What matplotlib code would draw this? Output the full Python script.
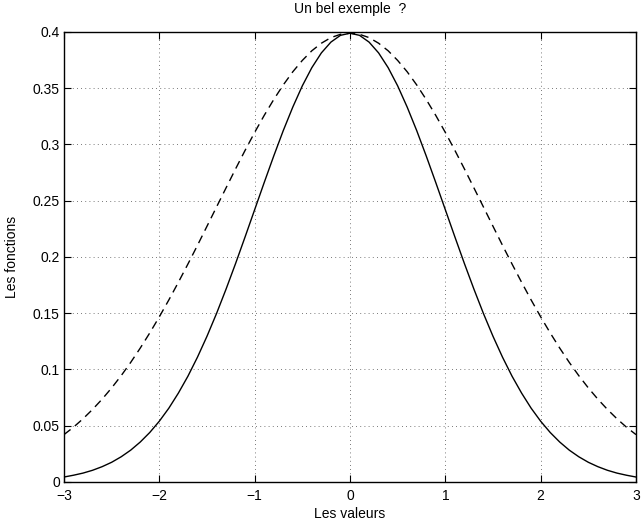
import numpy as np
import matplotlib.pyplot as plt

plt.rcParams['font.family'] = ['Liberation Sans', 'DejaVu Sans']

x = [round(-3.0 + 0.1 * i, 1) for i in range(61)]

# solid curve (narrow bell), read from -3 to 3
y_solid = [0.0044, 0.0060, 0.0079, 0.0104, 0.0136, 0.0175, 0.0224, 0.0283, 0.0355, 0.0440,
           0.0540, 0.0656, 0.0790, 0.0940, 0.1109, 0.1295, 0.1497, 0.1714, 0.1942, 0.2179,
           0.2420, 0.2661, 0.2897, 0.3123, 0.3332, 0.3521, 0.3683, 0.3814, 0.3910, 0.3970,
           0.3989,
           0.3970, 0.3910, 0.3814, 0.3683, 0.3521, 0.3332, 0.3123, 0.2897, 0.2661, 0.2420,
           0.2179, 0.1942, 0.1714, 0.1497, 0.1295, 0.1109, 0.0940, 0.0790, 0.0656, 0.0540,
           0.0440, 0.0355, 0.0283, 0.0224, 0.0175, 0.0136, 0.0104, 0.0079, 0.0060, 0.0044]

# dashed curve (wide bell), read from -3 to 3
y_dashed = [0.0421, 0.0487, 0.0562, 0.0645, 0.0736, 0.0836, 0.0945, 0.1063, 0.1190, 0.1325,
            0.1468, 0.1618, 0.1775, 0.1937, 0.2103, 0.2273, 0.2444, 0.2614, 0.2783, 0.2948,
            0.3107, 0.3258, 0.3399, 0.3529, 0.3646, 0.3747, 0.3833, 0.3900, 0.3950, 0.3979,
            0.3989,
            0.3979, 0.3950, 0.3900, 0.3833, 0.3747, 0.3646, 0.3529, 0.3399, 0.3258, 0.3107,
            0.2948, 0.2783, 0.2614, 0.2444, 0.2273, 0.2103, 0.1937, 0.1775, 0.1618, 0.1468,
            0.1325, 0.1190, 0.1063, 0.0945, 0.0836, 0.0736, 0.0645, 0.0562, 0.0487, 0.0421]

xticks = [-3, -2, -1, 0, 1, 2, 3]
yticks = [0, 0.05, 0.1, 0.15, 0.2, 0.25, 0.3, 0.35, 0.4]
yticklabels = ['0', '0.05', '0.1', '0.15', '0.2', '0.25', '0.3', '0.35', '0.4']

fig = plt.figure(figsize=(6.41, 5.24), dpi=100)
ax = fig.add_axes([0.0998, 0.0802, 0.8924, 0.8588])

ax.plot(x, y_solid, color='black', linewidth=1.0)
ax.plot(x, y_dashed, color='black', linewidth=1.0, linestyle=(0, (6, 4)))

ax.set_xlim(-3, 3)
ax.set_ylim(0, 0.4)
ax.set_xticks(xticks)
ax.set_yticks(yticks)
ax.set_yticklabels(yticklabels)

ax.grid(True, linestyle=(0, (1, 4)), color='black', linewidth=0.6, alpha=0.7)
ax.tick_params(direction='in', top=True, right=True, length=5, width=0.8,
               labelsize=10, pad=3)
ax.tick_params(axis='x', pad=5)
for s in ax.spines.values():
    s.set_linewidth(1.0)

ax.set_title('Un bel exemple  ?', fontsize=10, pad=14)
ax.set_xlabel('Les valeurs', fontsize=10, labelpad=3)
ax.set_ylabel('Les fonctions', fontsize=10, labelpad=10)

fig.savefig('out.png', dpi=100)
